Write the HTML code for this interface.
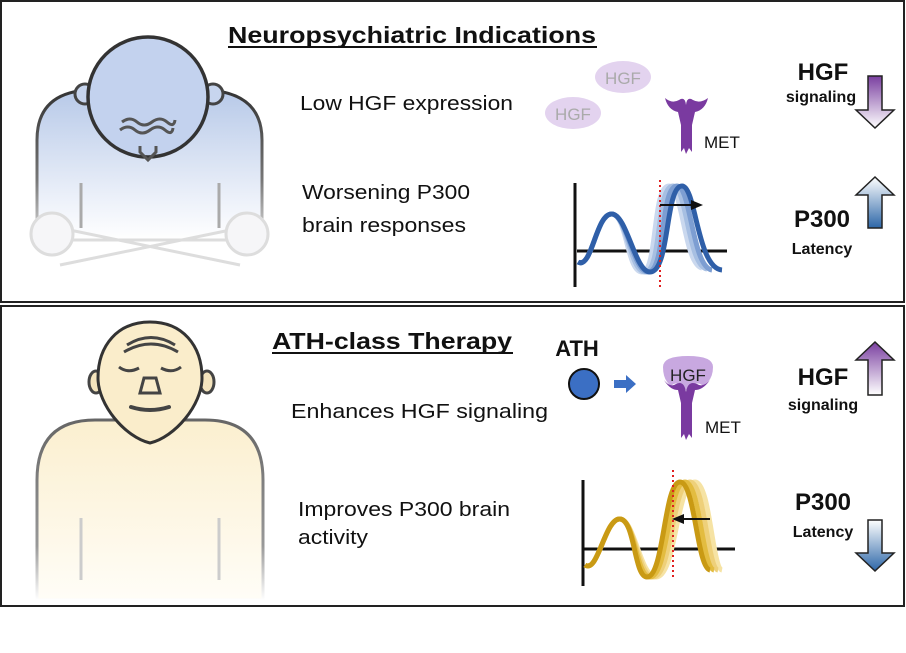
<!DOCTYPE html>
<html><head><meta charset="utf-8"><style>
html,body{margin:0;padding:0;background:#fff;}
svg{display:block;}
text{font-family:"Liberation Sans",Arial,sans-serif;}
</style></head><body>
<svg width="906" height="653" viewBox="0 0 906 653" xmlns="http://www.w3.org/2000/svg">
<defs>
<linearGradient id="blueFig" x1="0" y1="0" x2="0" y2="1">
<stop offset="0" stop-color="#b7c9e8"/><stop offset="0.75" stop-color="#eef2fa"/><stop offset="1" stop-color="#ffffff"/></linearGradient>
<linearGradient id="blueStroke" x1="0" y1="0" x2="0" y2="1">
<stop offset="0" stop-color="#333"/><stop offset="0.6" stop-color="#777"/><stop offset="1" stop-color="#ddd"/></linearGradient>
<linearGradient id="yelFig" x1="0" y1="0" x2="0" y2="1">
<stop offset="0" stop-color="#fbefcf"/><stop offset="1" stop-color="#fffdf7"/></linearGradient>
<linearGradient id="yelStroke" x1="0" y1="0" x2="0" y2="1">
<stop offset="0" stop-color="#666"/><stop offset="0.7" stop-color="#999"/><stop offset="1" stop-color="#fff"/></linearGradient>
<linearGradient id="purDown" x1="0" y1="0" x2="0" y2="1"><stop offset="0" stop-color="#7a3fa0"/><stop offset="1" stop-color="#fff"/></linearGradient>
<linearGradient id="purUp" x1="0" y1="1" x2="0" y2="0"><stop offset="0" stop-color="#fff"/><stop offset="1" stop-color="#7a3fa0"/></linearGradient>
<linearGradient id="bluUp" x1="0" y1="0" x2="0" y2="1"><stop offset="0" stop-color="#fff"/><stop offset="1" stop-color="#2d66a8"/></linearGradient>
<linearGradient id="bluDown" x1="0" y1="0" x2="0" y2="1"><stop offset="0" stop-color="#fff"/><stop offset="1" stop-color="#2d66a8"/></linearGradient>
</defs>

<rect x="1" y="1" width="903" height="301" fill="#fff" stroke="#222" stroke-width="2"/>
<rect x="1" y="306" width="903" height="300" fill="#fff" stroke="#222" stroke-width="2"/>

<!-- top figure -->
<g>
<path d="M37,240 L37,140 Q37,92 90,90 L205,90 Q262,92 262,140 L262,240 Z" fill="url(#blueFig)" stroke="url(#blueStroke)" stroke-width="3"/>
<circle cx="85" cy="94" r="10" fill="#c7d5ee" stroke="#444" stroke-width="3"/>
<circle cx="213" cy="94" r="10" fill="#c7d5ee" stroke="#444" stroke-width="3"/>
<circle cx="148" cy="97" r="60" fill="#c3d2ee" stroke="#333" stroke-width="3.5"/>
<path d="M122,122 q8,-6 15,0 t15,0 t15,0 t8,-2" fill="none" stroke="#555" stroke-width="3"/>
<path d="M120,130 q8,-6 15,0 t15,0 t15,0 t8,-2" fill="none" stroke="#555" stroke-width="3"/>
<path d="M140,146 l0,6 l8,8 l8,-8 l0,-6" fill="none" stroke="#555" stroke-width="3"/>
<line x1="81" y1="183" x2="81" y2="228" stroke="#aaa" stroke-width="3"/>
<line x1="219" y1="183" x2="219" y2="228" stroke="#aaa" stroke-width="3"/>
<line x1="60" y1="228" x2="240" y2="265" stroke="#ddd" stroke-width="3"/>
<line x1="240" y1="228" x2="60" y2="265" stroke="#ddd" stroke-width="3"/>
<circle cx="52" cy="234" r="21" fill="#f6f6f8" stroke="#ddd" stroke-width="3"/>
<circle cx="247" cy="234" r="21" fill="#f6f6f8" stroke="#ddd" stroke-width="3"/>
</g>

<!-- bottom figure -->
<g>
<path d="M37,600 L37,480 Q37,420 95,420 L205,420 Q263,420 263,480 L263,600 Z" fill="url(#yelFig)" stroke="url(#yelStroke)" stroke-width="3"/>
<line x1="81" y1="518" x2="81" y2="580" stroke="#ccc" stroke-width="3"/>
<line x1="219" y1="518" x2="219" y2="580" stroke="#ccc" stroke-width="3"/>
<ellipse cx="96" cy="382" rx="7" ry="11" fill="#f4e4bd" stroke="#444" stroke-width="3"/>
<ellipse cx="207" cy="382" rx="7" ry="11" fill="#f4e4bd" stroke="#444" stroke-width="3"/>
<path d="M150,322 C182,322 202,345 202,378 C202,405 175,437 150,443 C125,437 98,405 98,378 C98,345 118,322 150,322 Z" fill="#faedcb" stroke="#333" stroke-width="3"/>
<path d="M124,352 Q151,336 178,352" fill="none" stroke="#444" stroke-width="3"/>
<path d="M127,345 Q151,330 175,345" fill="none" stroke="#444" stroke-width="3"/>
<path d="M119,367 q9,7 20,1 M161,368 q11,6 20,-1" fill="none" stroke="#444" stroke-width="3"/>
<path d="M140,393 l4,-15 l12,0 l4,15 z" fill="none" stroke="#444" stroke-width="3"/>
<path d="M131,407 q19,6 38,0" fill="none" stroke="#444" stroke-width="4" stroke-linecap="round"/>
</g>

<!-- titles -->
<text x="228" y="43" font-size="23" font-weight="bold" fill="#111" textLength="368" lengthAdjust="spacingAndGlyphs">Neuropsychiatric Indications</text>
<line x1="228" y1="47" x2="597" y2="47" stroke="#111" stroke-width="2"/>
<text x="272" y="349" font-size="23" font-weight="bold" fill="#111" textLength="240" lengthAdjust="spacingAndGlyphs">ATH-class Therapy</text>
<line x1="272" y1="353" x2="513" y2="353" stroke="#111" stroke-width="2"/>

<text x="300" y="110" font-size="20" fill="#111" textLength="213" lengthAdjust="spacingAndGlyphs">Low HGF expression</text>
<text x="302" y="199" font-size="20" fill="#111" textLength="168" lengthAdjust="spacingAndGlyphs">Worsening P300</text>
<text x="302" y="232" font-size="20" fill="#111" textLength="164" lengthAdjust="spacingAndGlyphs">brain responses</text>
<text x="291" y="418" font-size="20" fill="#111" textLength="257" lengthAdjust="spacingAndGlyphs">Enhances HGF signaling</text>
<text x="298" y="516" font-size="20" fill="#111" textLength="212" lengthAdjust="spacingAndGlyphs">Improves P300 brain</text>
<text x="298" y="544" font-size="20" fill="#111" textLength="70" lengthAdjust="spacingAndGlyphs">activity</text>

<!-- top HGF blobs -->
<ellipse cx="623" cy="77" rx="28" ry="16" fill="#e3d3ef"/>
<text x="623" y="84" font-size="17" fill="#aaa" text-anchor="middle">HGF</text>
<ellipse cx="573" cy="113" rx="28" ry="16" fill="#e3d3ef"/>
<text x="573" y="120" font-size="17" fill="#aaa" text-anchor="middle">HGF</text>
<path d="M665,98 Q668,110 678,112 L681,125 L681,152 L684,148 L686,154 L689,148 L692,152 L692,125 L695,112 Q705,110 708,98 Q700,104 693,100 Q687,96 686,105 Q685,96 679,100 Q672,104 665,98 Z" fill="#7a3aa0"/>
<text x="704" y="148" font-size="17" fill="#111">MET</text>

<!-- right arrows top -->
<text x="823" y="80" font-size="24" font-weight="bold" fill="#111" text-anchor="middle">HGF</text>
<text x="821" y="102" font-size="16" font-weight="bold" fill="#111" text-anchor="middle">signaling</text>
<path d="M868,76 L882,76 L882,110 L894,110 L875,128 L856,110 L868,110 Z" fill="url(#purDown)" stroke="#222" stroke-width="1.5"/>
<path d="M868,228 L882,228 L882,195 L894,195 L875,177 L856,195 L868,195 Z" fill="url(#bluUp)" stroke="#222" stroke-width="1.5"/>
<text x="822" y="227" font-size="24" font-weight="bold" fill="#111" text-anchor="middle">P300</text>
<text x="822" y="254" font-size="16" font-weight="bold" fill="#111" text-anchor="middle">Latency</text>

<!-- top waves -->
<line x1="575" y1="183" x2="575" y2="287" stroke="#111" stroke-width="3"/>
<line x1="577" y1="251" x2="727" y2="251" stroke="#111" stroke-width="3"/>
<g fill="none" stroke-width="5">
<path d="M578,262 C592,270 596,213 612,214 C627,215 627,272 642,272 C658,272 652,186 669,186 C683,186 684,264 702,268" stroke="#cad8ee"/>
<path d="M578,262 C592,270 596,213 612,214 C627,215 630,272 645,272 C662,272 656,186 673,186 C687,186 688,266 707,269" stroke="#a7bfe2"/>
<path d="M578,262 C592,270 596,213 612,214 C627,215 633,272 648,272 C666,272 660,186 677,186 C691,186 692,267 712,270" stroke="#7d9ed2"/>
<path d="M578,262 C592,270 596,213 612,214 C627,215 635,272 650,272 C670,272 665,186 682,186 C696,186 697,268 722,270" stroke="#2f5fa8"/>
</g>
<line x1="660" y1="180" x2="660" y2="287" stroke="#e02020" stroke-width="2" stroke-dasharray="2,3"/>
<line x1="660" y1="205" x2="693" y2="205" stroke="#111" stroke-width="2"/>
<path d="M703,205 L691,200 L691,210 Z" fill="#111"/>

<!-- bottom -->
<text x="577" y="356" font-size="22" font-weight="bold" fill="#111" text-anchor="middle">ATH</text>
<circle cx="584" cy="384" r="15" fill="#3b6fc4" stroke="#111" stroke-width="2"/>
<path d="M614,380 L626,380 L626,375 L636,384 L626,393 L626,388 L614,388 Z" fill="#3b6fc4"/>
<path d="M663,367 Q663,356 688,356 Q713,356 713,367 Q713,380 703,386 Q698,381 692,386 L687,391 L682,386 Q676,381 671,386 Q663,380 663,367 Z" fill="#c8a8e0"/>
<path d="M664,380 Q670,390 678,390 L681,403 L681,438 L684,434 L686,440 L689,434 L692,438 L692,403 L695,390 Q703,390 710,380 Q703,388 697,384 Q688,380 686,392 Q684,380 676,384 Q670,388 664,380 Z" fill="#7a3aa0"/>
<text x="688" y="381" font-size="17" fill="#222" text-anchor="middle">HGF</text>
<text x="705" y="433" font-size="17" fill="#111">MET</text>

<path d="M868,395 L882,395 L882,360 L894,360 L875,342 L856,360 L868,360 Z" fill="url(#purUp)" stroke="#222" stroke-width="1.5"/>
<text x="823" y="385" font-size="24" font-weight="bold" fill="#111" text-anchor="middle">HGF</text>
<text x="823" y="410" font-size="16" font-weight="bold" fill="#111" text-anchor="middle">signaling</text>
<text x="823" y="510" font-size="24" font-weight="bold" fill="#111" text-anchor="middle">P300</text>
<text x="823" y="537" font-size="16" font-weight="bold" fill="#111" text-anchor="middle">Latency</text>
<path d="M868,520 L882,520 L882,553 L894,553 L875,571 L856,553 L868,553 Z" fill="url(#bluDown)" stroke="#222" stroke-width="1.5"/>

<line x1="583" y1="480" x2="583" y2="586" stroke="#111" stroke-width="3"/>
<line x1="584" y1="549" x2="735" y2="549" stroke="#111" stroke-width="3"/>
<g fill="none" stroke-width="5">
<path d="M585,565 C598,574 605,518 620,519 C635,520 640,577 656,577 C676,577 676,482 695,482 C710,482 712,568 722,570" stroke="#f6e3a4"/>
<path d="M585,565 C598,574 605,518 620,519 C635,520 638,577 653,577 C672,577 672,482 690,482 C705,482 707,568 718,570" stroke="#eed07a"/>
<path d="M585,565 C598,574 605,518 620,519 C635,520 636,577 650,577 C668,577 668,482 685,482 C700,482 702,568 714,570" stroke="#e3bc40"/>
<path d="M585,565 C598,574 605,518 620,519 C635,520 634,577 647,577 C664,577 664,482 680,482 C695,482 697,568 710,570" stroke="#c99a14"/>
</g>
<line x1="673" y1="470" x2="673" y2="580" stroke="#e02020" stroke-width="2" stroke-dasharray="2,3"/>
<line x1="681" y1="519" x2="710" y2="519" stroke="#111" stroke-width="2"/>
<path d="M672,519 L684,514 L684,524 Z" fill="#111"/>
</svg>
</body></html>
